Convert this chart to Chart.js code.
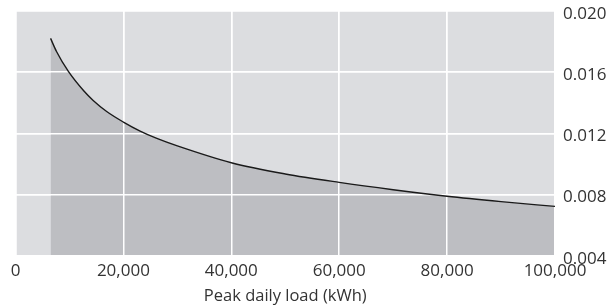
<!DOCTYPE html>
<html>
<head>
<meta charset="utf-8">
<script src="https://cdn.jsdelivr.net/npm/chart.js@4/dist/chart.umd.min.js"></script>
<style>
  html, body { margin: 0; padding: 0; background: #ffffff; }
  #wrap { width: 614px; height: 306px; position: relative; }
</style>
</head>
<body>
<div id="wrap"><canvas id="c"></canvas></div>
<script>
// Peak daily load (kWh)
const loadKWh = [6500, 7600, 9800, 12600, 14400, 16900, 20000, 23100, 26200, 30000, 40000, 50000, 60000, 70000, 80000, 90000, 100000];
const values  = [0.01821, 0.01735, 0.01605, 0.01480, 0.01415, 0.01343, 0.01274, 0.01215, 0.01167, 0.01118, 0.01008, 0.00935, 0.00880, 0.00832, 0.00789, 0.00754, 0.00723];
const xTicks = [0, 20000, 40000, 60000, 80000, 100000];
const yTicks = [0.004, 0.008, 0.012, 0.016, 0.020];
const xTitle = 'Peak daily load (kWh)';

const points = loadKWh.map((x, i) => ({ x: x, y: values[i] }));
const FONT = "'Open Sans', sans-serif";

const bgPlugin = {
  id: 'plotBg',
  beforeDraw(chart) {
    const a = chart.chartArea, ctx = chart.ctx;
    ctx.save();
    ctx.fillStyle = '#dcdde0';
    ctx.fillRect(a.left, a.top, a.right - a.left, a.bottom - a.top);
    ctx.restore();
  },
  beforeDatasetDraw(chart, args) {
    if (args.index === 0) {
      chart.scales.x.drawGrid(chart.chartArea);
      chart.scales.y.drawGrid(chart.chartArea);
    }
  }
};

new Chart(document.getElementById('c'), {
  type: 'scatter',
  data: {
    datasets: [
      {
        data: points,
        showLine: true,
        borderColor: '#1a1a1a',
        borderWidth: 1.4,
        pointRadius: 0,
        cubicInterpolationMode: 'monotone',
        fill: false
      },
      {
        data: points,
        showLine: true,
        borderWidth: 0,
        borderColor: 'rgba(0,0,0,0)',
        backgroundColor: '#bdbec2',
        pointRadius: 0,
        cubicInterpolationMode: 'monotone',
        fill: 'start'
      }
    ]
  },
  options: {
    responsive: true,
    maintainAspectRatio: false,
    animation: false,
    layout: { padding: { left: 15.5, right: 0, top: 11, bottom: 0 } },
    plugins: { legend: { display: false }, tooltip: { enabled: false } },
    scales: {
      x: {
        type: 'linear',
        min: 0, max: 100000,
        afterBuildTicks(s) { s.ticks = xTicks.map(v => ({ value: v })); },
        grid: { color: '#ffffff', lineWidth: 1.5, drawTicks: false, z: -2 },
        border: { display: false },
        ticks: {
          color: '#333333',
          font: { family: FONT, size: 17 },
          padding: 5,
          maxRotation: 0,
          callback: v => v.toLocaleString('en-US')
        },
        title: {
          display: true,
          text: xTitle,
          color: '#333333',
          font: { family: FONT, size: 16.5 },
          padding: { top: 0, bottom: 0 }
        }
      },
      y: {
        position: 'right',
        min: 0.004, max: 0.020,
        afterBuildTicks(s) { s.ticks = yTicks.map(v => ({ value: v })); },
        afterFit(s) { s.width = 59; s.paddingTop = 0; s.paddingBottom = 0; },
        grid: { color: '#ffffff', lineWidth: 1.5, drawTicks: false, z: -2 },
        border: { display: false },
        ticks: {
          color: '#333333',
          font: { family: FONT, size: 17 },
          padding: 8,
          labelOffset: 3,
          callback: v => v.toFixed(3)
        }
      }
    }
  },
  plugins: [bgPlugin]
});
</script>
</body>
</html>
